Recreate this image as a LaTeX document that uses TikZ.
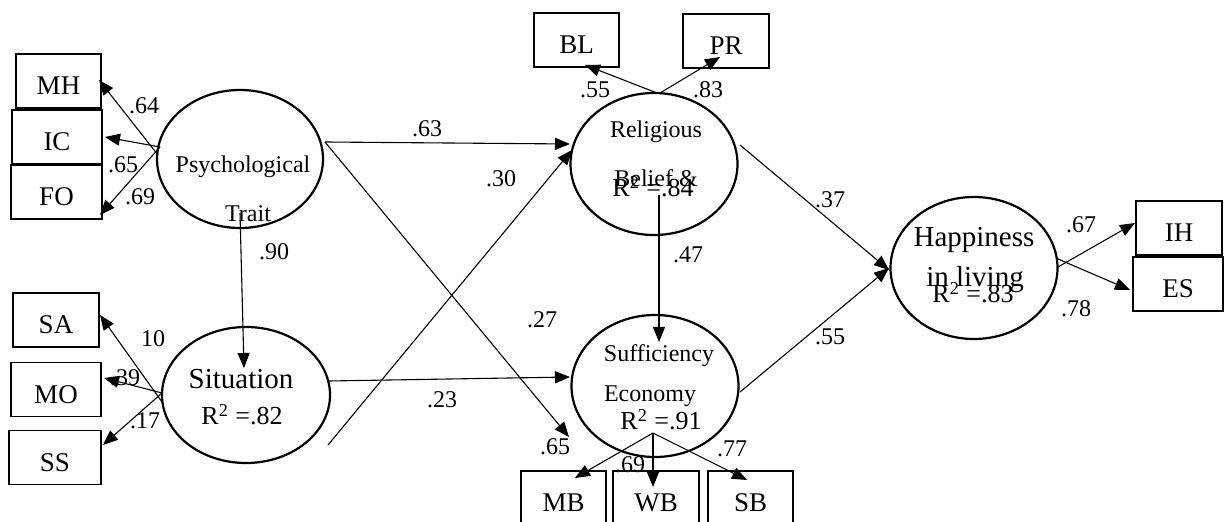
\documentclass[tikz,border=0pt]{standalone}
\usepackage{fontspec}
\setmainfont{Liberation Serif}
\usetikzlibrary{shapes.geometric,arrows.meta}
\begin{document}
\begin{tikzpicture}[x=0.5pt,y=-0.5pt,
  lat/.style={ellipse,draw,line width=1.1pt,inner sep=0pt,outer sep=0pt,minimum width=83.5pt,minimum height=71pt},
  obs/.style={rectangle,draw,line width=0.6pt,inner sep=0pt,outer sep=0pt,minimum height=27pt,text height=14pt,text depth=0pt,font=\fontsize{13.5}{15}\selectfont},
  arr/.style={-{Triangle[length=7.5pt,width=6pt]},line width=0.55pt},
  lbl/.style={anchor=base,inner sep=0pt,font=\fontsize{12}{14}\selectfont},
  big/.style={anchor=base,inner sep=0pt,font=\fontsize{14.5}{16}\selectfont},
  rsq/.style={anchor=base,inner sep=0pt,font=\fontsize{13}{15}\selectfont}
]
\useasboundingbox (0,0) rectangle (1224,522);
\fill[white] (0,0) rectangle (1224,522);

% observed boxes
\node[obs,minimum width=42.5pt] (MH) at (58.5,81) {MH};
\node[obs,minimum width=45pt] (IC) at (57,137) {IC};
\node[obs,minimum width=45.5pt] (FO) at (56.5,192) {FO};
\node[obs,minimum width=43pt] (SA) at (56,320) {SA};
\node[obs,minimum width=45pt] (MO) at (56,389.5) {MO};
\node[obs,minimum width=46pt] (SS) at (55,457.5) {SS};
\node[obs,minimum width=42.5pt] (BL) at (576.5,40) {BL};
\node[obs,minimum width=43pt] (PR) at (726,41) {PR};
\node[obs,minimum width=42.5pt] (MB) at (563.5,498) {MB};
\node[obs,minimum width=43pt] (WB) at (656,498) {WB};
\node[obs,minimum width=42.5pt] (SB) at (750.5,498) {SB};
\node[obs,minimum width=43pt] (IH) at (1179,228) {IH};
\node[obs,minimum width=45pt] (ES) at (1178,284) {ES};

% latent ellipses
\node[lat,minimum width=83pt,minimum height=69pt] (psy) at (240,159) {};
\node[lat,minimum width=84pt,minimum height=68pt] (sit) at (246,395) {};
\node[lat] (rel) at (654,164) {};
\node[lat] (suf) at (655,386) {};
\node[lat] (hap) at (974,268) {};

% latent texts
\node[lbl] (psyA) at (243,173) {Psychological};
\node[lbl] (psyB) at (248,222) {Trait};
\node[big] (sitA) at (241,389) {Situation};
\node[rsq] (sitR) at (242,425) {R\textsuperscript{2} =.82};
\node[lbl] (relA) at (656,138) {Religious};
\node[lbl] (relB) at (656,187) {Belief \&};
\node[rsq] (relR) at (653,197) {R\textsuperscript{2} =.84};
\node[lbl] (sufA) at (659,362) {Sufficiency};
\node[lbl] (sufB) at (650,402) {Economy};
\node[rsq] (sufR) at (661,430) {R\textsuperscript{2} =.91};
\node[big] (hapA) at (974,247) {Happiness};
\node[big] (hapB) at (975,287) {in living};
\node[rsq] (hapR) at (973,303) {R\textsuperscript{2} =.83};

% coefficient labels
\node[lbl] (l64) at (144,114) {.64};
\node[lbl] (l65a) at (123,173) {.65};
\node[lbl] (l69a) at (140,205) {.69};
\node[lbl] (l90) at (274,260) {.90};
\node[lbl] (l10) at (153,347) {10};
\node[lbl] (l39) at (125,386) {.39};
\node[lbl] (l17) at (145,429) {.17};
\node[lbl] (l63) at (427,137) {.63};
\node[lbl] (l30) at (501,187) {.30};
\node[lbl] (l27) at (542,328) {.27};
\node[lbl] (l23) at (442,408) {.23};
\node[lbl] (l65b) at (555,455) {.65};
\node[lbl] (l69b) at (630,473) {.69};
\node[lbl] (l77) at (732,457) {.77};
\node[lbl] (l55a) at (595,98) {.55};
\node[lbl] (l83) at (708,98) {.83};
\node[lbl] (l47) at (688,263) {.47};
\node[lbl] (l37) at (830,208) {.37};
\node[lbl] (l55b) at (830,345) {.55};
\node[lbl] (l67) at (1081,233) {.67};
\node[lbl] (l78) at (1076,317) {.78};

% connector end points
\coordinate (psyMH) at (158,155);
\coordinate (psyW) at (160,147);
\coordinate (psyS) at (240,213);
\coordinate (psyE) at (325,142);
\coordinate (sitSA) at (162,402);
\coordinate (sitW) at (162,393);
\coordinate (sitSE) at (328,445);
\coordinate (sitE) at (329,381);
\coordinate (relTop1) at (657,93);
\coordinate (relTop2) at (660,93);
\coordinate (relIn) at (659,195);
\coordinate (relE) at (740,145);
\coordinate (sufBot) at (653,433);
\coordinate (sufE) at (740,392);
\coordinate (hapE1) at (1058,267);
\coordinate (hapE2) at (1058,259);
\coordinate (tMH) at (99,80);
\coordinate (tIC) at (105,137);
\coordinate (tFO) at (100,215);
\coordinate (tSA) at (100,315);
\coordinate (tMO) at (104,378);
\coordinate (tSS) at (103,445);
\coordinate (tSit) at (244,368);
\coordinate (tRel1) at (570,144);
\coordinate (tRel2) at (572,150);
\coordinate (tSuf1) at (569,437);
\coordinate (tSuf2) at (570,377);
\coordinate (tSuf3) at (659,342);
\coordinate (tHap1) at (889,270);
\coordinate (tHap2) at (889,268);
\coordinate (tBL) at (585,65);
\coordinate (tPR) at (720,57);
\coordinate (tMB) at (575,478);
\coordinate (tWB) at (653,487);
\coordinate (tSB) at (747,480);
\coordinate (tIH) at (1135,223);
\coordinate (tES) at (1130,290);

% connectors
\draw[arr] (psyMH) -- (tMH);
\draw[arr] (psyW) -- (tIC);
\draw[arr] (psyW) -- (tFO);
\draw[arr] (sitSA) -- (tSA);
\draw[arr] (sitW) -- (tMO);
\draw[arr] (sitW) -- (tSS);
\draw[arr] (psyS) -- (tSit);
\draw[arr] (psyE) -- (tRel1);
\draw[arr] (psyE) -- (tSuf1);
\draw[arr] (sitSE) -- (tRel2);
\draw[arr] (sitE) -- (tSuf2);
\draw[arr] (relIn) -- (tSuf3);
\draw[arr] (relE) -- (tHap1);
\draw[arr] (sufE) -- (tHap2);
\draw[arr] (relTop1) -- (tBL);
\draw[arr] (relTop2) -- (tPR);
\draw[arr] (sufBot) -- (tMB);
\draw[arr] (sufBot) -- (tWB);
\draw[arr] (sufBot) -- (tSB);
\draw[arr] (hapE1) -- (tIH);
\draw[arr] (hapE2) -- (tES);
\end{tikzpicture}
\end{document}
